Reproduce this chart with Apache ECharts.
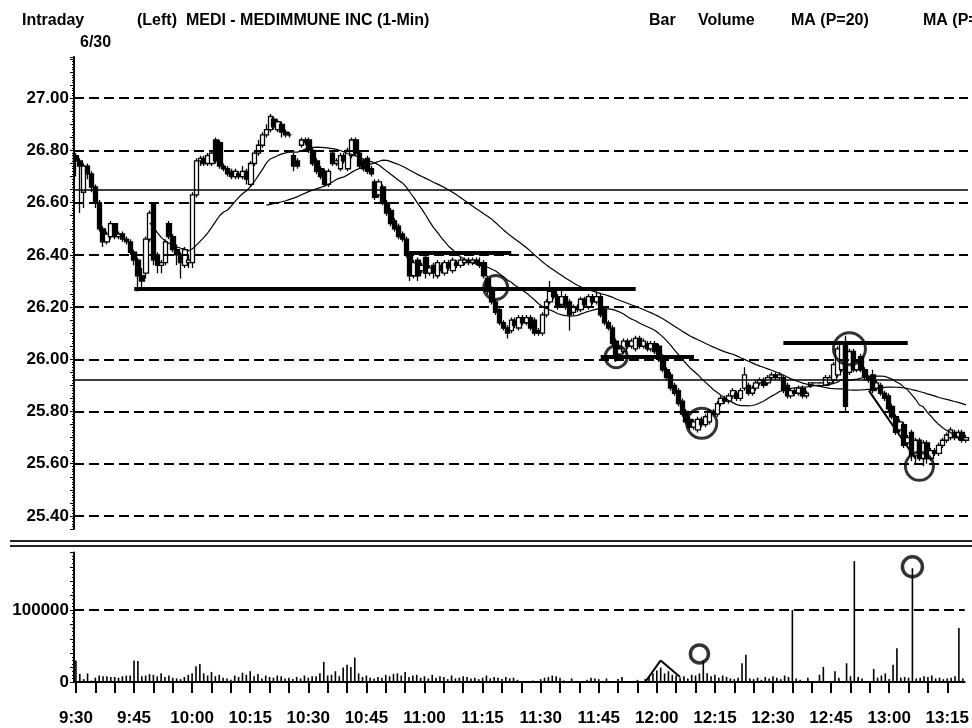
<!DOCTYPE html>
<html><head><meta charset="utf-8">
<script src="https://cdn.jsdelivr.net/npm/echarts@6/dist/echarts.min.js"></script>
<style>html,body{margin:0;padding:0;background:#fff}#c{width:972px;height:728px}</style>
</head><body><div id="c"></div>
<script>
// ---- data ----
const startHour = 9, startMinute = 30, barCount = 230;
const tickLabels = ['9:30','9:45','10:00','10:15','10:30','10:45','11:00','11:15','11:30','11:45','12:00','12:15','12:30','12:45','13:00','13:15'];
const priceTicks = [25.40,25.60,25.80,26.00,26.20,26.40,26.60,26.80,27.00];
const volumeTicks = [0,100000];
const openP = [26.78,26.76,26.64,26.74,26.71,26.66,26.60,26.50,26.45,26.47,
26.52,26.47,26.48,26.46,26.45,26.41,26.38,26.32,26.33,26.46,
26.60,26.40,26.36,26.37,26.52,26.47,26.42,26.40,26.36,26.37,
26.37,26.63,26.76,26.77,26.75,26.75,26.84,26.83,26.74,26.73,
26.72,26.70,26.71,26.70,26.72,26.67,26.75,26.79,26.82,26.86,
26.88,26.92,26.88,26.90,26.87,26.86,26.78,26.76,26.82,26.84,
26.84,26.80,26.76,26.73,26.72,26.67,26.79,26.75,26.73,26.78,
26.73,26.78,26.84,26.79,26.76,26.77,26.73,26.68,26.63,26.66,
26.60,26.57,26.53,26.51,26.48,26.46,26.40,26.32,26.38,26.34,
26.39,26.33,26.36,26.32,26.36,26.33,26.37,26.34,26.37,26.36,
26.37,26.38,26.37,26.38,26.37,26.37,26.31,26.27,26.22,26.19,
26.14,26.12,26.11,26.15,26.12,26.16,26.14,26.16,26.15,26.11,
26.10,26.17,26.22,26.26,26.24,26.21,26.24,26.22,26.18,26.20,
26.19,26.23,26.20,26.24,26.22,26.24,26.19,26.14,26.12,26.07,
26.02,26.03,26.07,26.05,26.04,26.08,26.05,26.06,26.04,26.06,
26.05,26.01,25.96,25.94,25.90,25.88,25.84,25.80,25.77,25.74,
25.73,25.77,25.75,25.76,25.80,25.79,25.83,25.85,25.84,25.86,
25.87,25.85,25.89,25.90,25.87,25.89,25.91,25.92,25.91,25.93,
25.94,25.93,25.93,25.90,25.86,25.88,25.87,25.89,25.86,25.90,
25.91,25.91,25.91,25.90,25.91,25.92,25.94,25.96,26.06,25.95,
26.03,25.96,26.01,25.96,25.93,25.94,25.89,25.90,25.87,25.86,
25.82,25.78,25.73,25.75,25.68,25.72,25.63,25.69,25.62,25.68,
25.62,25.65,25.64,25.67,25.69,25.70,25.72,25.70,25.72,25.69];
const closeP = [26.76,26.74,26.74,26.71,26.66,26.60,26.50,26.45,26.48,26.52,
26.47,26.48,26.46,26.45,26.41,26.38,26.32,26.30,26.46,26.56,
26.38,26.36,26.37,26.45,26.47,26.42,26.40,26.37,26.42,26.38,
26.63,26.76,26.77,26.75,26.78,26.79,26.76,26.74,26.73,26.71,
26.70,26.72,26.70,26.72,26.69,26.75,26.79,26.82,26.86,26.88,
26.93,26.89,26.91,26.87,26.86,26.86,26.74,26.74,26.84,26.83,
26.80,26.75,26.72,26.70,26.67,26.72,26.75,26.76,26.78,26.76,
26.80,26.84,26.79,26.74,26.73,26.72,26.71,26.62,26.68,26.60,
26.56,26.52,26.50,26.47,26.46,26.40,26.32,26.37,26.32,26.36,
26.33,26.35,26.33,26.37,26.34,26.37,26.35,26.38,26.36,26.38,
26.38,26.37,26.38,26.37,26.36,26.32,26.26,26.22,26.18,26.14,
26.12,26.10,26.15,26.13,26.16,26.14,26.16,26.12,26.10,26.10,
26.17,26.22,26.26,26.24,26.20,26.24,26.20,26.17,26.20,26.19,
26.23,26.21,26.24,26.22,26.24,26.17,26.14,26.12,26.06,26.01,
26.04,26.07,26.05,26.07,26.08,26.05,26.07,26.04,26.06,26.03,
26.00,25.96,25.93,25.89,25.87,25.83,25.79,25.76,25.74,25.76,
25.77,25.75,25.78,25.80,25.79,25.83,25.85,25.84,25.86,25.88,
25.85,25.88,25.94,25.87,25.89,25.91,25.92,25.90,25.93,25.94,
25.93,25.94,25.88,25.86,25.88,25.87,25.89,25.86,25.87,25.91,
25.91,25.91,25.91,25.93,25.93,25.98,26.04,26.06,25.82,26.03,
25.96,25.99,25.96,25.93,25.92,25.88,25.91,25.87,25.85,25.81,
25.78,25.72,25.76,25.67,25.70,25.63,25.69,25.62,25.68,25.62,
25.65,25.64,25.67,25.69,25.71,25.73,25.70,25.72,25.69,25.70];
const lowP = [26.70,26.56,26.58,26.69,26.64,26.58,26.49,26.43,26.44,26.46,
26.46,26.46,26.45,26.44,26.40,26.36,26.26,26.27,26.31,26.45,
26.36,26.33,26.33,26.36,26.46,26.41,26.36,26.31,26.35,26.35,
26.35,26.62,26.74,26.74,26.74,26.74,26.75,26.73,26.72,26.70,
26.69,26.69,26.69,26.69,26.67,26.66,26.74,26.78,26.81,26.85,
26.87,26.88,26.87,26.85,26.85,26.85,26.72,26.73,26.81,26.82,
26.79,26.74,26.71,26.69,26.66,26.66,26.74,26.74,26.72,26.75,
26.72,26.77,26.78,26.73,26.72,26.71,26.70,26.61,26.62,26.59,
26.55,26.51,26.49,26.46,26.45,26.39,26.30,26.31,26.30,26.33,
26.31,26.32,26.31,26.31,26.33,26.32,26.34,26.33,26.35,26.35,
26.36,26.36,26.36,26.36,26.35,26.31,26.25,26.21,26.17,26.13,
26.11,26.08,26.10,26.12,26.11,26.13,26.13,26.11,26.09,26.09,
26.09,26.16,26.21,26.23,26.19,26.20,26.19,26.11,26.17,26.18,
26.18,26.20,26.19,26.21,26.21,26.16,26.13,26.11,26.05,25.99,
26.00,26.02,26.04,26.04,26.03,26.04,26.04,26.03,26.03,26.02,
25.99,25.95,25.92,25.88,25.86,25.82,25.78,25.75,25.73,25.73,
25.72,25.74,25.74,25.75,25.78,25.78,25.82,25.83,25.83,25.85,
25.84,25.84,25.88,25.86,25.86,25.88,25.90,25.89,25.90,25.92,
25.92,25.92,25.87,25.85,25.85,25.86,25.86,25.85,25.85,25.89,
25.91,25.91,25.91,25.90,25.90,25.91,25.93,25.95,25.80,25.94,
25.95,25.95,25.95,25.92,25.91,25.87,25.88,25.86,25.84,25.80,
25.77,25.71,25.72,25.66,25.67,25.61,25.60,25.61,25.59,25.60,
25.61,25.63,25.63,25.66,25.68,25.69,25.69,25.69,25.68,25.68];
const highP = [26.79,26.77,26.75,26.75,26.72,26.67,26.61,26.51,26.49,26.53,
26.52,26.49,26.49,26.47,26.46,26.42,26.39,26.35,26.47,26.57,
26.60,26.41,26.38,26.46,26.53,26.48,26.44,26.41,26.43,26.40,
26.64,26.77,26.78,26.78,26.79,26.80,26.85,26.84,26.75,26.74,
26.73,26.73,26.72,26.74,26.73,26.76,26.80,26.84,26.87,26.90,
26.94,26.93,26.92,26.91,26.88,26.87,26.79,26.77,26.85,26.85,
26.85,26.81,26.77,26.74,26.73,26.73,26.80,26.77,26.79,26.79,
26.81,26.85,26.85,26.80,26.77,26.78,26.74,26.69,26.69,26.67,
26.61,26.58,26.54,26.52,26.49,26.47,26.41,26.38,26.39,26.37,
26.40,26.36,26.37,26.38,26.37,26.38,26.38,26.39,26.38,26.39,
26.39,26.39,26.39,26.39,26.39,26.38,26.32,26.28,26.23,26.20,
26.15,26.13,26.16,26.16,26.17,26.17,26.17,26.17,26.16,26.12,
26.18,26.23,26.30,26.27,26.25,26.27,26.25,26.23,26.21,26.21,
26.24,26.24,26.25,26.25,26.26,26.25,26.20,26.15,26.13,26.08,
26.05,26.08,26.08,26.08,26.09,26.09,26.08,26.07,26.07,26.07,
26.06,26.02,25.97,25.95,25.91,25.89,25.85,25.81,25.78,25.77,
25.78,25.78,25.79,25.81,25.81,25.84,25.86,25.86,25.87,25.89,
25.88,25.89,25.97,25.91,25.90,25.92,25.93,25.93,25.94,25.95,
25.95,25.95,25.94,25.91,25.89,25.89,25.90,25.90,25.88,25.91,
25.91,25.91,25.91,25.94,25.94,25.99,26.05,26.07,26.09,26.04,
26.04,26.00,26.02,25.97,25.94,25.96,25.92,25.91,25.88,25.87,
25.83,25.79,25.77,25.76,25.71,25.73,25.70,25.70,25.69,25.69,
25.66,25.66,25.68,25.70,25.72,25.74,25.73,25.73,25.73,25.71];
const volumes = [30000,11000,4000,12000,2000,6000,9000,8000,8000,7000,
7000,6000,8000,9000,9000,30000,29000,8000,9000,11000,
10000,8000,12000,7000,9000,6000,5000,4000,7000,10000,
12000,22000,25000,12000,9000,14000,8000,10000,6000,5000,
3000,9000,7000,13000,10000,15000,8000,11000,5000,9000,
7000,6000,9000,8000,5000,6000,4000,7000,5000,9000,
6000,8000,8000,12000,28000,9000,10000,15000,8000,20000,
24000,21000,34000,12000,7000,9000,6000,5000,7000,6000,
10000,8000,11000,12000,9000,14000,7000,9000,10000,6000,
8000,5000,10000,6000,8000,7000,4000,9000,5000,6000,
8000,7000,5000,6000,4000,6000,9000,5000,7000,6000,
4000,7000,5000,6000,3000,0,0,0,2000,0,
4000,6000,7000,9000,8000,6000,2000,0,5000,0,
0,0,3000,6000,5000,4000,0,5000,0,0,
4000,7000,0,0,0,3000,0,4000,8000,12000,
16000,20000,12000,15000,10000,9000,6000,8000,5000,10000,
9000,12000,30000,12000,8000,10000,6000,9000,7000,5000,
4000,6000,26000,38000,5000,4000,6000,3000,7000,5000,
8000,6000,4000,9000,7000,100000,5000,3000,0,6000,
0,0,10000,21000,0,0,15000,6000,0,26000,
8000,168000,7000,5000,0,0,18000,6000,9000,12000,
4000,24000,47000,6000,7000,6000,158000,5000,6000,8000,
7000,9000,5000,6000,4000,5000,6000,8000,75000,5000];
const maPeriods = [20, 50];
const levelLines = [26.65, 25.92];
// [startIndex, endIndex, price]
const thickSegments = [[15,144,26.27],[85,112,26.41],[135,159,26.01],[182,214,26.065]];
const trendSegments = [[[204,25.88],[216,25.62]]];
// [index, price, diameter]
const priceCircles = [[108,26.275,24],[139,26.01,22],[161,25.755,30],[199,26.04,32],[217,25.59,28]];
const volumeCircles = [[161,39000,18],[216,160000,20]];
const volumeMarks = [[[147,0],[151,30000]],[[151,30000],[156,7000]]];

// ---- build ----
const categories = [];
for (let i = 0; i < barCount; i++) {
  const t = startHour * 60 + startMinute + i;
  categories.push(Math.floor(t / 60) + ':' + String(t % 60).padStart(2, '0'));
}
const candles = openP.map((o, i) => [o, closeP[i], lowP[i], highP[i]]);
function movingAverage(p) {
  return closeP.map((_, i) => {
    if (i < p - 1) return null;
    let s = 0; for (let k = i - p + 1; k <= i; k++) s += closeP[k];
    return +(s / p).toFixed(4);
  });
}
const FONT = 'Liberation Sans';
const isNear = (v, arr) => arr.some(a => Math.abs(a - v) < 1e-6);

const priceMarkData = [];
priceTicks.forEach(v => priceMarkData.push({yAxis: v, lineStyle: {type: [10, 5], width: 2, color: '#000'}}));
levelLines.forEach(v => priceMarkData.push({yAxis: v, lineStyle: {type: 'solid', width: 1.5, color: '#000'}}));
thickSegments.forEach(s => priceMarkData.push([{coord: [s[0], s[2]], lineStyle: {type: 'solid', width: 4, color: '#000'}}, {coord: [s[1], s[2]]}]));
trendSegments.forEach(s => priceMarkData.push([{coord: s[0], lineStyle: {type: 'solid', width: 2, color: '#000'}}, {coord: s[1]}]));

const volMarkData = [{yAxis: 100000, lineStyle: {type: [10, 5], width: 2, color: '#000'}}];
volumeMarks.forEach(s => volMarkData.push([{coord: s[0], lineStyle: {type: 'solid', width: 2, color: '#000'}}, {coord: s[1]}]));

const chart = echarts.init(document.getElementById('c'), null, {renderer: 'canvas'});
const axisFont = {color: '#000', fontFamily: FONT, fontWeight: 'bold', fontSize: 17};
const titleFont = {fill: '#000', fontFamily: FONT, fontWeight: 'bold', fontSize: 16};

chart.setOption({
  animation: false,
  backgroundColor: '#fff',
  grid: [
    {left: 74, right: 4, top: 57, height: 472},
    {left: 74, right: 4, top: 552.4, height: 129.6}
  ],
  xAxis: [
    {gridIndex: 0, type: 'category', data: categories, boundaryGap: true,
     axisLine: {show: false}, axisTick: {show: false}, axisLabel: {show: false}, splitLine: {show: false}},
    {gridIndex: 1, type: 'category', data: categories, boundaryGap: true,
     axisLine: {show: true, onZero: false, lineStyle: {color: '#000', width: 2}},
     axisTick: {show: true, interval: 4, alignWithLabel: true, length: 11, lineStyle: {color: '#000', width: 2}},
     axisLabel: Object.assign({interval: 14, margin: 28,
       formatter: v => tickLabels.includes(v) ? v : ''}, axisFont),
     splitLine: {show: false}}
  ],
  yAxis: [
    {gridIndex: 0, type: 'value', min: 25.35, max: 27.158, interval: 0.05,
     axisLine: {show: true, lineStyle: {color: '#000', width: 2}},
     axisTick: {show: true, length: 4, lineStyle: {color: '#000', width: 1}},
     minorTick: {show: true, splitNumber: 5, length: 2, lineStyle: {color: '#000', width: 1}},
     axisLabel: Object.assign({margin: 5,
       formatter: v => isNear(v, priceTicks) ? v.toFixed(2) : ''}, axisFont),
     splitLine: {show: false}},
    {gridIndex: 1, type: 'value', min: 0, max: 180000, interval: 20000,
     axisLine: {show: true, lineStyle: {color: '#000', width: 2}},
     axisTick: {show: true, length: 4, lineStyle: {color: '#000', width: 1}},
     minorTick: {show: true, splitNumber: 4, length: 2, lineStyle: {color: '#000', width: 1}},
     axisLabel: Object.assign({margin: 5,
       formatter: v => isNear(v, volumeTicks) ? String(v) : ''}, axisFont),
     splitLine: {show: false}}
  ],
  series: [
    {type: 'candlestick', xAxisIndex: 0, yAxisIndex: 0, data: candles, barWidth: 5,
     itemStyle: {color: '#fff', color0: '#000', borderColor: '#000', borderColor0: '#000', borderWidth: 1.3},
     markLine: {silent: true, symbol: 'none', label: {show: false}, data: priceMarkData, z: 5}},
    {type: 'line', xAxisIndex: 0, yAxisIndex: 0, data: movingAverage(maPeriods[0]), showSymbol: false,
     lineStyle: {color: '#000', width: 1.2}, z: 4},
    {type: 'line', xAxisIndex: 0, yAxisIndex: 0, data: movingAverage(maPeriods[1]), showSymbol: false,
     lineStyle: {color: '#000', width: 1.2}, z: 4},
    {type: 'scatter', xAxisIndex: 0, yAxisIndex: 0, data: priceCircles.map(c => [c[0], c[1]]),
     symbolSize: (v, p) => priceCircles[p.dataIndex][2],
     itemStyle: {color: 'rgba(0,0,0,0)', borderColor: '#000', borderWidth: 3}, z: 6},
    {type: 'bar', xAxisIndex: 1, yAxisIndex: 1, data: volumes, barWidth: 1.6,
     itemStyle: {color: '#000'},
     markLine: {silent: true, symbol: 'none', label: {show: false}, data: volMarkData}},
    {type: 'scatter', xAxisIndex: 1, yAxisIndex: 1, data: volumeCircles.map(c => [c[0], c[1]]),
     symbolSize: (v, p) => volumeCircles[p.dataIndex][2],
     itemStyle: {color: 'rgba(0,0,0,0)', borderColor: '#000', borderWidth: 3.5}, z: 6}
  ],
  graphic: [
    {type: 'text', left: 22, top: 13, style: Object.assign({text: 'Intraday'}, titleFont)},
    {type: 'text', left: 80, top: 35, style: Object.assign({text: '6/30'}, titleFont)},
    {type: 'text', left: 137, top: 13, style: Object.assign({text: '(Left)  MEDI - MEDIMMUNE INC (1-Min)'}, titleFont)},
    {type: 'text', left: 649, top: 13, style: Object.assign({text: 'Bar'}, titleFont)},
    {type: 'text', left: 698, top: 13, style: Object.assign({text: 'Volume'}, titleFont)},
    {type: 'text', left: 791, top: 13, style: Object.assign({text: 'MA (P=20)'}, titleFont)},
    {type: 'text', left: 923, top: 13, style: Object.assign({text: 'MA (P=50)'}, titleFont)},
    {type: 'line', shape: {x1: 10, y1: 541, x2: 972, y2: 541}, style: {stroke: '#222', lineWidth: 2}},
    {type: 'line', shape: {x1: 10, y1: 546, x2: 972, y2: 546}, style: {stroke: '#222', lineWidth: 2}}
  ]
});
</script></body></html>
